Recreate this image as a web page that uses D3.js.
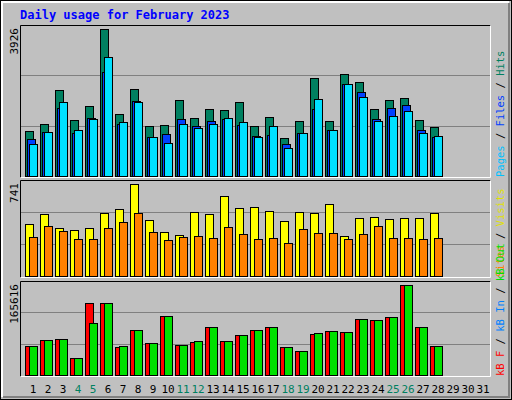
<!DOCTYPE html>
<html><head><meta charset="utf-8">
<script src="https://cdn.jsdelivr.net/npm/d3@7"></script>
<style>body{margin:0;background:#fff}</style>
</head><body><svg id="c" width="512" height="400"></svg>
<script>
var days = d3.range(1, 29);
var weekend = [4, 5, 11, 12, 18, 19, 25, 26];
var hits = [1208,1394,2300,1501,1874,3926,1661,2327,1341,1368,2034,1554,1794,1768,1981,1341,1581,1021,1474,2620,1474,2727,2514,1794,2034,2087,1501,1314];
var files = [995,1181,1803,1155,1554,2789,1394,2007,1048,1128,1528,1341,1474,1528,1368,1075,1101,862,1155,1794,1235,2460,2247,1528,1821,1901,1235,1048];
var pages = [862,1181,1981,1235,1528,3180,1448,1981,1048,888,1394,1288,1394,1554,1448,1048,1341,755,1155,2061,1235,2460,2114,1474,1608,1741,1155,1075];
var visits = [419,499,387,371,387,507,540,741,451,354,330,516,499,644,548,556,524,443,516,507,580,322,467,475,459,467,467,507];
var sites = [314,403,362,298,298,387,435,507,354,290,314,322,306,395,338,298,306,266,379,346,346,298,338,403,306,306,298,306];
var kbF = [53190,64070,65880,31430,132970,132970,51370,82200,58630,109400,55000,60440,87640,62250,73130,82200,87640,51370,44120,74950,80390,78570,103960,100330,107580,165616,87640,53190];
var kbOut = [53190,64070,65880,31430,94890,132970,53190,82200,58630,109400,55000,62250,87640,62250,73130,82200,87640,51370,44120,76760,80390,78570,103960,100330,107580,165616,87640,53190];

var svg = d3.select('#c');
var mono = 'DejaVu Sans Mono, monospace';

// frame
svg.append('rect').attr('x', 0.5).attr('y', 0.5).attr('width', 511).attr('height', 399).attr('fill', '#c0c0c0').attr('stroke', '#000');
svg.append('path').attr('d', 'M2,397V2H509').attr('fill', 'none').attr('stroke', '#fff').attr('stroke-width', 2);
svg.append('path').attr('d', 'M3,397H509V3').attr('fill', 'none').attr('stroke', '#808080').attr('stroke-width', 2);

svg.append('text').attr('x', 20).attr('y', 19).attr('fill', '#0000ff')
  .attr('font-family', mono).attr('font-weight', 'bold').attr('font-size', 12)
  .text('Daily usage for February 2023');

var x = d3.scaleLinear().domain([1, 32]).range([25, 490]);

function panel(top, bottom, max, series, legend) {
  var y = d3.scaleLinear().domain([0, max]).range([bottom, top + 4]);
  svg.append('rect').attr('x', 20.5).attr('y', top + 0.5).attr('width', 470).attr('height', bottom - top + 1)
    .attr('fill', '#c0c0c0');
  svg.append('path').attr('d', 'M20.5,' + (bottom + 1.5) + 'V' + (top + 0.5) + 'H490.5').attr('fill', 'none').attr('stroke', '#000');
  svg.append('path').attr('d', 'M20.5,' + (bottom + 1.5) + 'H490.5V' + (top + 0.5)).attr('fill', 'none').attr('stroke', '#fff');
  [1, 2].forEach(function (k) {
    var gy = Math.round(bottom - (bottom - top) * k / 3) + 0.5;
    svg.append('line').attr('x1', 21).attr('x2', 490).attr('y1', gy).attr('y2', gy).attr('stroke', '#808080');
  });
  series.forEach(function (s) {
    svg.append('g').selectAll('rect').data(s.values).join('rect')
      .attr('x', function (d, i) { return x(days[i]) + s.off + 0.5; })
      .attr('y', function (d) { return Math.round(y(d)) + 0.5; })
      .attr('width', s.w)
      .attr('height', function (d) { return bottom - Math.round(y(d)); })
      .attr('fill', s.color).attr('stroke', '#000');
  });
  svg.append('text').attr('transform', 'translate(18,' + (top + 3) + ') rotate(-90)')
    .attr('text-anchor', 'end').attr('font-family', mono).attr('font-size', 11)
    .text(max);
  var t = svg.append('text').attr('transform', 'translate(504,' + (bottom + 1) + ') rotate(-90)')
    .attr('font-family', mono).attr('font-size', 10.5);
  legend.forEach(function (l, i) {
    if (i > 0) t.append('tspan').attr('fill', '#000').text(' / ');
    t.append('tspan').attr('fill', l[1]).text(l[0]);
  });
}

panel(25, 176, 3926, [
  { values: hits, off: 0, w: 8, color: '#008060' },
  { values: files, off: 2, w: 8, color: '#0040ff' },
  { values: pages, off: 4, w: 8, color: '#00e0ff' }
], [['Pages', '#00c0ff'], ['Files', '#0040ff'], ['Hits', '#008060']]);

panel(180, 276, 741, [
  { values: visits, off: 0, w: 8, color: '#ffff00' },
  { values: sites, off: 4, w: 8, color: '#ff8000' }
], [['Sites', '#ff8000'], ['Visits', '#e0e000']]);

panel(281, 375, 165616, [
  { values: kbF, off: 0, w: 8, color: '#ff0000' },
  { values: kbOut, off: 4, w: 8, color: '#00e000' }
], [['kB F', '#ff0000'], ['kB In', '#0080ff'], ['kB Out', '#00e000']]);

svg.append('g').selectAll('text').data(d3.range(1, 32)).join('text')
  .attr('x', function (d) { return x(d) + 8; }).attr('y', 393)
  .attr('text-anchor', 'middle').attr('font-family', mono).attr('font-size', 11)
  .attr('fill', function (d) { return weekend.indexOf(d) >= 0 ? '#008060' : '#000'; })
  .text(function (d) { return d; });
</script></body></html>
